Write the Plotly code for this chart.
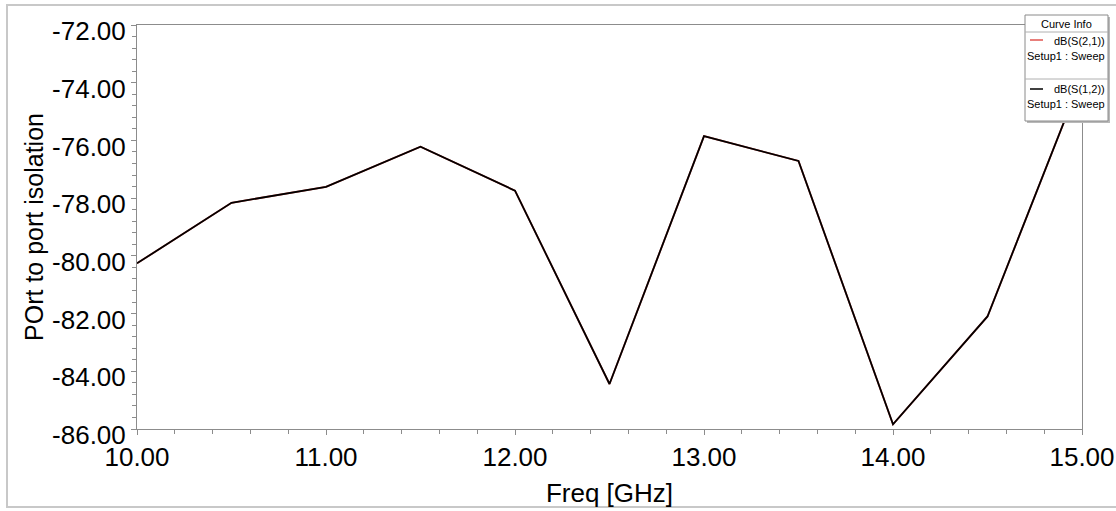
import plotly.graph_objects as go

# ---- data ----
freq_ghz = [10.0, 10.5, 11.0, 11.5, 12.0, 12.5, 13.0, 13.5, 14.0, 14.5, 15.0]
s12_db = [-80.26, -78.16, -77.61, -76.22, -77.74, -84.44, -75.85, -76.71, -85.84, -82.10, -73.78]
s21_db = [-80.26, -78.16, -77.61, -76.22, -77.74, -84.44, -75.85, -76.71, -85.84, -82.10, -73.78]
x_tickvals = [10, 11, 12, 13, 14, 15]
x_ticktext = ["10.00", "11.00", "12.00", "13.00", "14.00", "15.00"]
y_tickvals = [-86, -84, -82, -80, -78, -76, -74, -72]
y_ticktext = ["-86.00", "-84.00", "-82.00", "-80.00", "-78.00", "-76.00", "-74.00", "-72.00"]

W, H = 1116, 511
L, R, T, B = 137, 1082, 25, 429
FONT = "Liberation Sans, Arial, sans-serif"
AXC = "#8c8c8c"

def px(xp):
    return (xp - L) / (R - L)

def py(yp):
    return (B - yp) / (B - T)

fig = go.Figure()
fig.add_trace(go.Scatter(x=freq_ghz, y=s21_db, mode="lines", name="dB(S(2,1))",
                         line=dict(color="#e0554f", width=1.8), showlegend=False))
fig.add_trace(go.Scatter(x=freq_ghz, y=s12_db, mode="lines", name="dB(S(1,2))",
                         line=dict(color="#000000", width=1.8), showlegend=False))

fig.update_layout(
    width=W, height=H,
    margin=dict(l=L, r=W - R, t=T, b=H - B, pad=0, autoexpand=False),
    paper_bgcolor="white", plot_bgcolor="white",
    font=dict(family=FONT, color="#000000"),
    showlegend=False,
)
fig.update_xaxes(
    range=[10, 15], tickvals=x_tickvals, ticktext=x_ticktext,
    tickfont=dict(size=26, family=FONT, color="#000"),
    ticks="outside", ticklen=5, tickcolor=AXC, tickwidth=1,
    minor=dict(dtick=0.2, ticks="outside", ticklen=4, tickcolor=AXC),
    showline=True, linecolor=AXC, linewidth=1, mirror=True,
    showgrid=False, zeroline=False, automargin=False,
    title=dict(text="Freq [GHz]", font=dict(size=26, family=FONT, color="#000"), standoff=12),
)
fig.update_yaxes(
    range=[-86, -72], tickvals=y_tickvals, ticktext=y_ticktext,
    tickfont=dict(size=26, family=FONT, color="#000"),
    ticks="outside", ticklen=5, tickcolor=AXC, tickwidth=1,
    minor=dict(dtick=0.4, ticks="outside", ticklen=4, tickcolor=AXC),
    showline=True, linecolor=AXC, linewidth=1, mirror=True,
    showgrid=False, zeroline=False, automargin=False,
    ticklabelshift=6,
    title=dict(text="POrt to port isolation", font=dict(size=25, family=FONT, color="#000"), standoff=1),
)

shapes = []
# outer frame
shapes.append(dict(type="rect", xref="paper", yref="paper",
                   x0=px(7), x1=px(1125), y0=py(507), y1=py(5),
                   line=dict(color="#c8c8c8", width=2), fillcolor="rgba(0,0,0,0)", layer="below"))
# legend box shadow + box
lx0, lx1, ly0, ly1 = 1025, 1108, 15, 121
shapes.append(dict(type="rect", xref="paper", yref="paper",
                   x0=px(lx0 + 2), x1=px(lx1 + 2), y0=py(ly1 + 2), y1=py(ly0 + 2),
                   line=dict(width=0), fillcolor="#b8b8b8", layer="above"))
shapes.append(dict(type="rect", xref="paper", yref="paper",
                   x0=px(lx0), x1=px(lx1), y0=py(ly1), y1=py(ly0),
                   line=dict(color="#8a8a8a", width=1), fillcolor="white", layer="above"))
for sep in (32, 79):
    shapes.append(dict(type="line", xref="paper", yref="paper",
                       x0=px(lx0), x1=px(lx1), y0=py(sep), y1=py(sep),
                       line=dict(color="#b0b0b0", width=1), layer="above"))
# legend line samples
shapes.append(dict(type="line", xref="paper", yref="paper",
                   x0=px(1030), x1=px(1043), y0=py(40), y1=py(40),
                   line=dict(color="#e0554f", width=1.5), layer="above"))
shapes.append(dict(type="line", xref="paper", yref="paper",
                   x0=px(1030), x1=px(1043), y0=py(89), y1=py(89),
                   line=dict(color="#000000", width=1.5), layer="above"))
fig.update_layout(shapes=shapes)

ann = []
def txt(t, xp, yp, xanchor="center"):
    ann.append(dict(text=t, xref="paper", yref="paper", x=px(xp), y=py(yp),
                    xanchor=xanchor, yanchor="middle", showarrow=False,
                    font=dict(size=11, family=FONT, color="#000")))
txt("Curve Info", 1066, 24)
txt("dB(S(2,1))", 1107, 41, "right")
txt("Setup1 : Sweep", 1107, 56, "right")
txt("dB(S(1,2))", 1107, 89, "right")
txt("Setup1 : Sweep", 1107, 104, "right")
fig.update_layout(annotations=ann)

fig.write_html("out.html", config={"displayModeBar": False},
               post_script="document.body.style.margin='0';document.body.style.overflow='hidden';")
